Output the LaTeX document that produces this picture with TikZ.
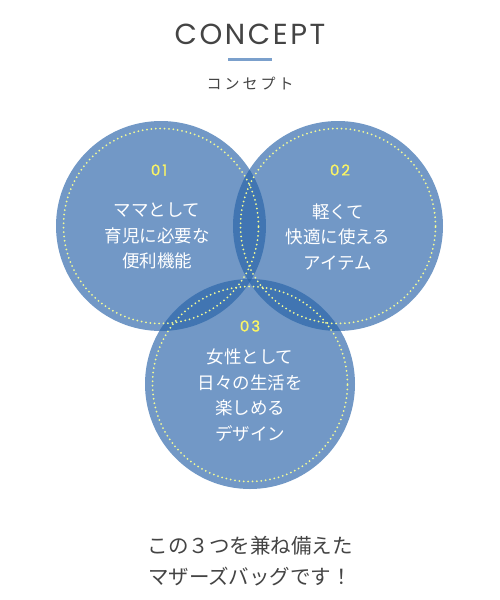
\documentclass[tikz,border=0pt]{standalone}
\usepackage{fontspec}
\setmainfont{Noto Sans CJK JP}
\newfontfamily\titlefont{Poppins}
\newfontfamily\numfont[FakeBold=1.2]{Poppins}
\newfontfamily\jp{Noto Sans CJK JP}
\definecolor{circfill}{RGB}{41,100,169}
\definecolor{dotcol}{RGB}{242,250,150}
\definecolor{numcol}{RGB}{250,244,100}
\definecolor{txtgray}{RGB}{68,68,68}
\definecolor{barblue}{RGB}{123,160,204}
\tikzset{
  bubble/.style={fill=circfill, fill opacity=0.66, draw=none},
  dotring/.style={draw=dotcol, line width=2pt, line cap=round, dash pattern=on 0pt off 4.4pt},
  numlabel/.style={text=numcol, font=\numfont\fontsize{15}{15}\selectfont},
  circtext/.style={text=white, align=center, font=\jp\fontsize{17.5}{25.5}\selectfont},
  heading/.style={text=txtgray},
}
\begin{document}
\begin{tikzpicture}[x=1pt,y=-1pt]
\useasboundingbox (0,0) rectangle (500,600);
\fill[white] (0,0) rectangle (500,600);
% title
\node[heading, font=\titlefont\fontsize{29}{29}\selectfont] (title) at (250,34) {C\kern2.6pt O\kern2.6pt N\kern2.6pt C\kern2.6pt E\kern2.6pt P\kern2.6pt T};
\coordinate (barL) at (228,59);
\coordinate (barR) at (272,59);
\draw[barblue, line width=3pt] (barL) -- (barR);
\node[heading, font=\jp\fontsize{15}{15}\selectfont] (sub) at (250,84) {コ\hspace{3pt}ン\hspace{3pt}セ\hspace{3pt}プ\hspace{3pt}ト};
% circles
\node[bubble, circle, minimum size=210pt, inner sep=0pt] (c1) at (161,226) {};
\node[bubble, circle, minimum size=210pt, inner sep=0pt] (c2) at (338,226) {};
\node[bubble, circle, minimum size=210pt, inner sep=0pt] (c3) at (250,384) {};
\node[dotring, circle, minimum size=195pt, inner sep=0pt] (d1) at (c1.center) {};
\node[dotring, circle, minimum size=195pt, inner sep=0pt] (d2) at (c2.center) {};
\node[dotring, circle, minimum size=195pt, inner sep=0pt] (d3) at (c3.center) {};
% numbers
\node[numlabel] (n1) at (159,170) {0\kern2pt 1};
\node[numlabel] (n2) at (340,170) {0\kern2pt 2};
\node[numlabel] (n3) at (250,326) {0\kern2pt 3};
% circle texts
\node[circtext] (t1) at (157,236) {ママとして\\育児に必要な\\便利機能};
\node[circtext] (t2) at (338,237) {軽くて\\快適に使える\\アイテム};
\node[circtext] (t3) at (250,395) {女性として\\日々の生活を\\楽しめる\\デザイン};
% bottom
\node[heading, align=center, font=\jp\fontsize{20.5}{31}\selectfont] (bottom) at (250,561) {この３つを兼ね備えた\\マザーズバッグです！};
\end{tikzpicture}
\end{document}
